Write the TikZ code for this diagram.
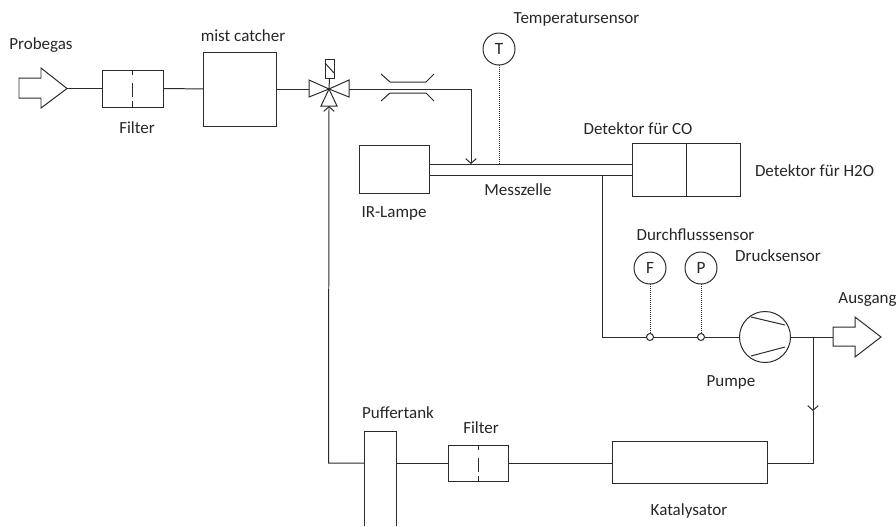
\documentclass[tikz,border=0pt]{standalone}
\usepackage{xcolor}
\usepackage{fontspec}
\setmainfont{Carlito}
\usetikzlibrary{arrows.meta}
\definecolor{plantline}{HTML}{2b2b2b}
\tikzset{
  pipe/.style={plantline,line width=0.85pt},
  flow/.style={pipe,-{Straight Barb[length=4pt,width=9pt]}},
  signal/.style={plantline,line width=0.7pt,densely dotted},
  sieve/.style={pipe,dash pattern=on 4pt off 7pt on 12pt off 3.5pt on 5pt off 0pt},
  unit/.style={draw=plantline,line width=0.85pt,inner sep=0pt,outer sep=0pt,rectangle},
  sensor/.style={draw=plantline,line width=0.85pt,circle,inner sep=0pt,outer sep=0pt,minimum size=0.96cm,text=black!85,font=\fontsize{14.7}{17}\selectfont},
  tapping/.style={draw=plantline,fill=white,line width=0.85pt,circle,inner sep=0pt,outer sep=0pt,minimum size=0.21cm},
  tag/.style={inner sep=0pt,text=black!85,font=\fontsize{14.5}{17}\selectfont},
}
\begin{document}
\begin{tikzpicture}[x=0.03cm,y=-0.03cm]
  \useasboundingbox (0,0) rectangle (896,526);
  % units
  \node[unit,minimum width=1.83cm,minimum height=1.11cm] (filterin) at (132.5,88.5) {};
  \node[unit,minimum width=2.19cm,minimum height=2.22cm] (mist) at (239.5,89) {};
  \node[unit,minimum width=2.1cm,minimum height=1.44cm] (lamp) at (394,169) {};
  \node[unit,minimum width=6.09cm,minimum height=0.33cm] (cell) at (530.5,169.5) {};
  \node[unit,minimum width=1.62cm,minimum height=1.59cm] (detco) at (659,169.5) {};
  \node[unit,minimum width=1.62cm,minimum height=1.59cm] (deth) at (713,169.5) {};
  \node[unit,minimum width=1.8cm,minimum height=1.08cm] (filterback) at (478,463) {};
  \node[unit,minimum width=4.65cm,minimum height=1.26cm] (cat) at (689.5,462) {};
  \node[sensor] (temp) at (499,49) {T};
  \node[sensor] (flow) at (650,268) {F};
  \node[sensor] (press) at (701,268) {P};
  \node[draw=plantline,line width=0.85pt,circle,inner sep=0pt,outer sep=0pt,minimum size=1.53cm] (pump) at (765,337) {};
  \node[tapping] (flowtap) at (650,337) {};
  \node[tapping] (presstap) at (701,337) {};
  % filter marks and pump vanes
  \draw[sieve] (filterin.north) -- (filterin.south);
  \draw[sieve] (filterback.north) -- (filterback.south);
  \draw[pipe] (751,317) -- (785,325);
  \draw[pipe] (751,356) -- (785,347);
  % tank, open at the bottom
  \draw[pipe,fill=white] (364,526) -- (364,431) -- (396,431) -- (396,526);
  \coordinate (tankl) at (364,463);
  \coordinate (tankr) at (396,463);
  % big arrows
  \draw[pipe] (19,78) -- (41,78) -- (41,68) -- (67,88.5) -- (41,108) -- (41,98) -- (19,98) -- cycle;
  \draw[pipe] (833,327) -- (855,327) -- (855,317) -- (881,337) -- (855,357) -- (855,346) -- (833,346) -- cycle;
  \coordinate (gasin) at (67,88.5);
  \coordinate (gasout) at (833,337);
  % valve
  \coordinate (valve) at (329,89);
  \coordinate (valvel) at (309,89);
  \coordinate (valver) at (349,89);
  \coordinate (valveb) at (329,106);
  \draw[pipe] (valve) -- (309,80) -- (309,97) -- cycle;
  \draw[pipe] (valve) -- (349,80) -- (349,97) -- cycle;
  \draw[pipe] (valve) -- (321,106) -- (337,106) -- cycle;
  \fill[plantline] (valve) circle[radius=0.04cm];
  \node[unit,minimum width=0.27cm,minimum height=0.57cm] (coil) at (329.5,68.5) {};
  \draw[pipe] (coil.south) -- (valve);
  \draw[pipe] (325,63) -- (334,73);
  % restriction
  \draw[pipe] (381,74) -- (390,82) -- (426,82) -- (434,74);
  \draw[pipe] (381,101) -- (390,93) -- (426,93) -- (434,101);
  % connectors
  \coordinate (cellin) at (471,164);
  \coordinate (cellout) at (602,175);
  \coordinate (bend) at (328.5,463);
  \coordinate (branch) at (813,337);
  \coordinate (branchtip) at (813,411);
  \coordinate (catback) at (813,463);
  \draw[pipe] (gasin) -- (filterin);
  \draw[pipe] (filterin) -- (mist);
  \draw[pipe] (mist) -- (valvel);
  \draw[flow] (valver) -| (cellin);
  \draw[signal] (temp) -- (499,164);
  \draw[pipe] (cellout) |- (flowtap);
  \draw[pipe] (flowtap) -- (presstap);
  \draw[pipe] (presstap) -- (pump);
  \draw[pipe] (pump) -- (gasout);
  \draw[signal] (flow) -- (flowtap);
  \draw[signal] (press) -- (presstap);
  \draw[flow] (branch) -- (branchtip);
  \draw[pipe] (branchtip) -- (catback) -- (cat.east |- catback);
  \draw[pipe] (cat.west |- catback) -- (filterback);
  \draw[pipe] (filterback) -- (tankr);
  \draw[flow] (tankl) -- (bend) -- (valveb);
  % labels
  \node[tag] (lblgas) at (41,45.5) {Probegas};
  \node[tag] (lblfilter) at (137,127.5) {Filter};
  \node[tag] (lblmist) at (243,35.5) {mist catcher};
  \node[tag] (lbltemp) at (576.5,19.5) {Temperatursensor};
  \node[tag] (lblco) at (638,128.5) {Detektor für CO};
  \node[tag] (lblh) at (814.5,170.5) {Detektor für H2O};
  \node[tag] (lblcell) at (518,189.5) {Messzelle};
  \node[tag] (lbllamp) at (394,213.5) {IR-Lampe};
  \node[tag] (lblflow) at (695.5,234.5) {Durchflusssensor};
  \node[tag] (lblpress) at (778,255.5) {Drucksensor};
  \node[tag] (lblout) at (867.5,299.5) {Ausgang};
  \node[tag] (lblpump) at (731,382.5) {Pumpe};
  \node[tag] (lbltank) at (398,412.5) {Puffertank};
  \node[tag] (lblfilterb) at (481,427.5) {Filter};
  \node[tag] (lblcat) at (689,510.5) {Katalysator};
\end{tikzpicture}
\end{document}
